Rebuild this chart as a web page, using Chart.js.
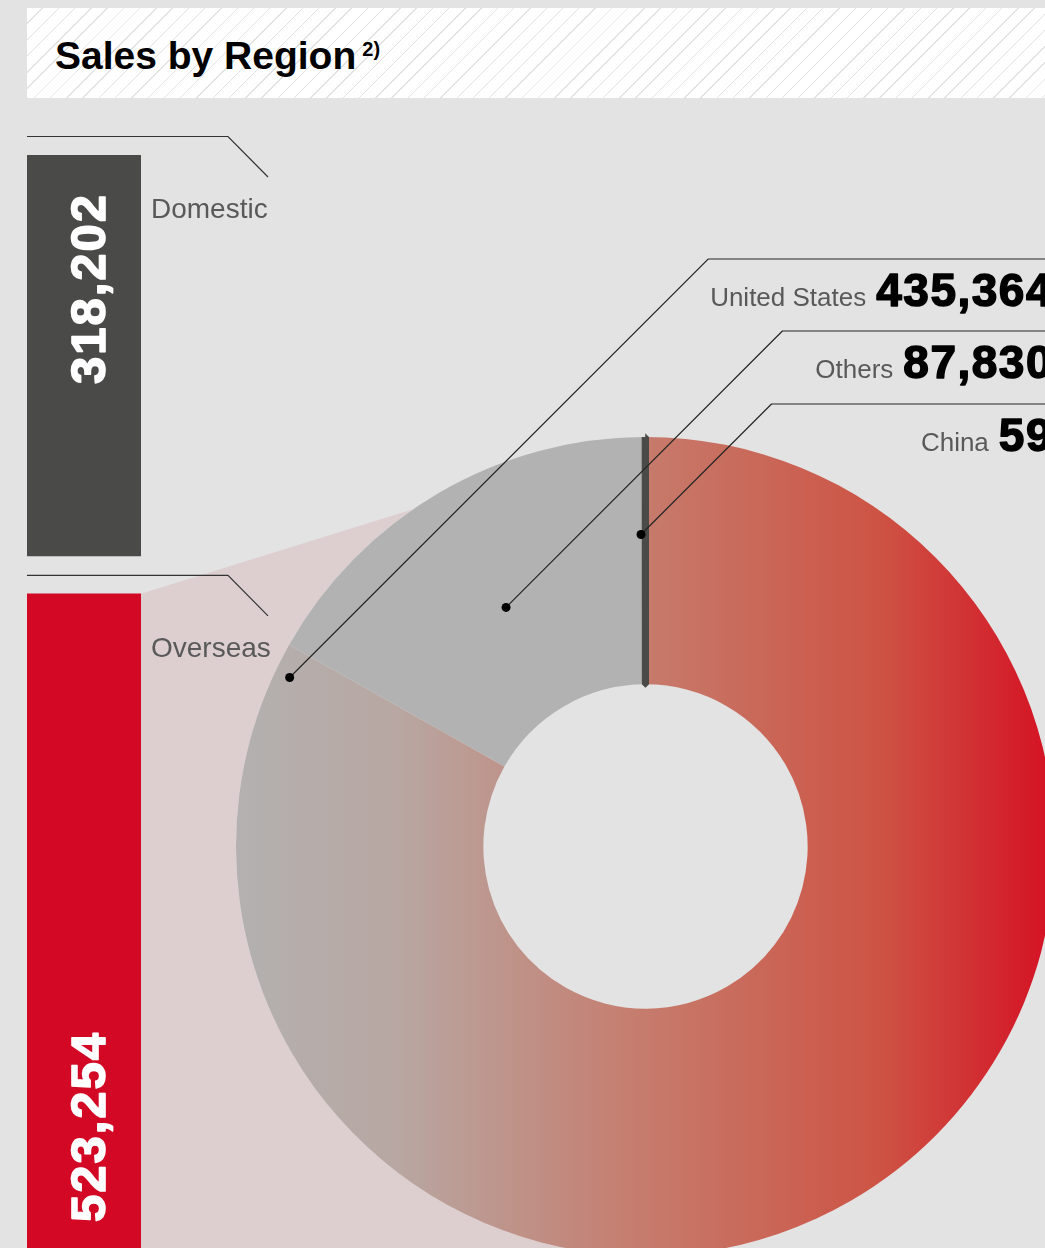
<!DOCTYPE html>
<html>
<head>
<meta charset="utf-8">
<script src="https://cdn.jsdelivr.net/npm/chart.js@4.4.1/dist/chart.umd.min.js"></script>
<style>
  html, body { margin: 0; padding: 0; }
  body {
    width: 1045px; height: 1248px; overflow: hidden; position: relative;
    background: #e3e3e3; font-family: "Liberation Sans", Arial, sans-serif;
  }
  .title-band {
    position: absolute; left: 27px; top: 8px; width: 1040px; height: 90px;
    background-color: #fff;
    background-image: repeating-linear-gradient(135deg, rgba(255,255,255,0) 0 10.5px, #e2e2e2 10.5px 11.5px);
  }
  .title {
    position: absolute; left: 55px; top: 36px; font-size: 39px; line-height: 39px;
    font-weight: bold; color: #000; white-space: nowrap;
  }
  .title span { position: relative; top: -13px; margin-left: 6px; font-size: 20px; }
  canvas { position: absolute; left: 0; top: 0; }
</style>
</head>
<body>
<div class="title-band"></div>
<div class="title">Sales by Region<span>2)</span></div>
<canvas id="donut" width="1100" height="1320"></canvas>
<canvas id="bars" width="1100" height="1320"></canvas>
<script>
// sales split
const segments = ['Domestic', 'Overseas'];
const segmentSales = [318202, 523254];

// overseas by region
const regions = ['United States', 'Others', 'China'];
const regionSales = [435364, 87830, 59];

const fmt = v => v.toLocaleString('en-US');

// heavy numerals: fill plus a thin stroke of the same colour
function heavyText(ctx, text, x, y, color, weight) {
  ctx.fillStyle = color;
  ctx.strokeStyle = color;
  ctx.lineWidth = weight;
  ctx.lineJoin = 'round';
  ctx.fillText(text, x, y);
  ctx.strokeText(text, x, y);
}

// ---- left column: domestic / overseas bars ----
const barTop = 155, barHeight = 1098, gapPx = 38;
const unitsPerPx = (segmentSales[0] + segmentSales[1]) / (barHeight - gapPx);
const gapUnits = gapPx * unitsPerPx;
const barRanges = [
  [0, segmentSales[0]],
  [segmentSales[0] + gapUnits, segmentSales[0] + gapUnits + segmentSales[1]]
];

const barLabels = {
  id: 'barLabels',
  afterDatasetsDraw(chart) {
    const ctx = chart.ctx;
    chart.data.datasets.forEach((ds, i) => {
      const el = chart.getDatasetMeta(i).data[0];
      const top = Math.min(el.y, el.base), bottom = Math.max(el.y, el.base);
      const left = el.x - el.width / 2, right = el.x + el.width / 2;
      ctx.save();
      // leader line
      ctx.strokeStyle = '#333';
      ctx.lineWidth = 1.2;
      ctx.beginPath();
      ctx.moveTo(left, top - 18.5);
      ctx.lineTo(left + 201, top - 18.5);
      ctx.lineTo(left + 241, top + 22);
      ctx.stroke();
      // category name
      ctx.fillStyle = '#595959';
      ctx.font = '28px "Liberation Sans", Arial, sans-serif';
      ctx.textAlign = 'left';
      ctx.textBaseline = 'alphabetic';
      ctx.fillText(segments[i], right + 10, top + 63);
      // rotated value
      ctx.translate(left + 78, i === 0 ? top + 38 : bottom - 31);
      ctx.rotate(-Math.PI / 2);
      ctx.textAlign = i === 0 ? 'right' : 'left';
      ctx.font = 'bold 49px "Liberation Sans", Arial, sans-serif';
      ctx.letterSpacing = '2px';
      heavyText(ctx, fmt(segmentSales[i]), 0, 0, '#fff', 1.6);
      ctx.restore();
    });
  }
};

const barChart = new Chart(document.getElementById('bars'), {
  type: 'bar',
  data: {
    labels: ['Sales'],
    datasets: [
      { label: segments[0], data: [barRanges[0]], backgroundColor: '#4a4a48' },
      { label: segments[1], data: [barRanges[1]], backgroundColor: '#d30824' }
    ]
  },
  options: {
    responsive: false,
    devicePixelRatio: 1,
    animation: false,
    events: [],
    layout: { padding: { left: 27, right: 1100 - 141, top: barTop, bottom: 1320 - barTop - barHeight } },
    datasets: { bar: { grouped: false, barPercentage: 1, categoryPercentage: 1, borderWidth: 0 } },
    scales: {
      x: { display: false },
      y: { display: false, reverse: true, min: 0, max: segmentSales[0] + segmentSales[1] + gapUnits }
    },
    plugins: { legend: { display: false }, tooltip: { enabled: false } }
  },
  plugins: [barLabels]
});

// ---- donut: overseas by region ----
const chinaBorder = 7;
const donutSize = 826;           // chart area square
const donutLeft = 232.5, donutTop = 433.5;
const calloutRows = [259, 331, 404];

function usGradient(chart) {
  const a = chart.chartArea;
  if (!a) return '#c67b6c';
  const g = chart.ctx.createLinearGradient(a.left, 0, a.right, 0);
  g.addColorStop(0, '#b3b1b0');
  g.addColorStop(0.2, '#b8a7a2');
  g.addColorStop(0.5, '#c67b6c');
  g.addColorStop(0.78, '#cd5445');
  g.addColorStop(1, '#d50f22');
  return g;
}
const sliceColors = [null, '#b2b2b2', '#4a4a48'];

function spot(arc, angle, frac) {
  const r = arc.outerRadius * frac;
  return { x: arc.x + Math.cos(angle) * r, y: arc.y + Math.sin(angle) * r };
}

const funnelAndCallouts = {
  id: 'funnelAndCallouts',
  beforeDatasetsDraw(chart) {
    const ctx = chart.ctx;
    const arc = chart.getDatasetMeta(0).data[0];
    const bar = barChart.getDatasetMeta(1).data[0];
    const top = Math.min(bar.y, bar.base), bottom = Math.max(bar.y, bar.base);
    const right = bar.x + bar.width / 2;
    ctx.save();
    ctx.fillStyle = '#ddcfd0';
    ctx.beginPath();
    ctx.moveTo(right, top);
    ctx.lineTo(arc.x, arc.y - arc.outerRadius);
    ctx.arc(arc.x, arc.y, arc.outerRadius, -Math.PI / 2, Math.PI / 2, true);
    ctx.lineTo(right, bottom);
    ctx.closePath();
    ctx.fill();
    ctx.restore();
  },
  afterDatasetsDraw(chart) {
    const ctx = chart.ctx;
    const arcs = chart.getDatasetMeta(0).data;
    const mid = a => (a.startAngle + a.endAngle) / 2;
    const dots = [
      spot(arcs[0], arcs[0].endAngle - 0.072, 0.962),
      spot(arcs[1], mid(arcs[1]), 0.676),
      spot(arcs[2], mid(arcs[2]) - 0.014, 0.762)
    ];
    const textRight = 1053;
    ctx.save();
    dots.forEach((d, i) => {
      const rowY = calloutRows[i];
      const elbowX = d.x + (d.y - rowY);
      ctx.strokeStyle = '#262626';
      ctx.lineWidth = 1.2;
      ctx.beginPath();
      ctx.moveTo(d.x, d.y);
      ctx.lineTo(elbowX, rowY);
      ctx.lineTo(chart.width, rowY);
      ctx.stroke();
      ctx.fillStyle = '#000';
      ctx.beginPath();
      ctx.arc(d.x, d.y, 4.5, 0, Math.PI * 2);
      ctx.fill();

      ctx.textBaseline = 'alphabetic';
      ctx.textAlign = 'right';
      ctx.font = 'bold 46px "Liberation Sans", Arial, sans-serif';
      ctx.letterSpacing = '1.5px';
      const val = fmt(regionSales[i]);
      const w = ctx.measureText(val).width;
      heavyText(ctx, val, textRight, rowY + 47, '#000', 1.5);
      ctx.letterSpacing = '0px';
      ctx.font = '26px "Liberation Sans", Arial, sans-serif';
      ctx.fillStyle = '#595959';
      ctx.fillText(regions[i], textRight - w - 10, rowY + 47);
    });
    ctx.restore();
  }
};

const donutChart = new Chart(document.getElementById('donut'), {
  type: 'doughnut',
  data: {
    labels: regions,
    datasets: [{
      data: regionSales,
      backgroundColor: c => c.dataIndex === 0 ? usGradient(c.chart) : sliceColors[c.dataIndex],
      borderColor: '#4a4a48',
      borderWidth: [0, 0, chinaBorder],
      hoverOffset: 0,
      hoverBorderWidth: 0
    }]
  },
  options: {
    responsive: false,
    devicePixelRatio: 1,
    animation: false,
    events: [],
    cutout: '39.6%',
    rotation: 0,
    layout: {
      padding: {
        left: donutLeft, top: donutTop,
        right: 1100 - donutLeft - donutSize, bottom: 1320 - donutTop - donutSize
      }
    },
    plugins: { legend: { display: false }, tooltip: { enabled: false } }
  },
  plugins: [funnelAndCallouts]
});
</script>
</body>
</html>
